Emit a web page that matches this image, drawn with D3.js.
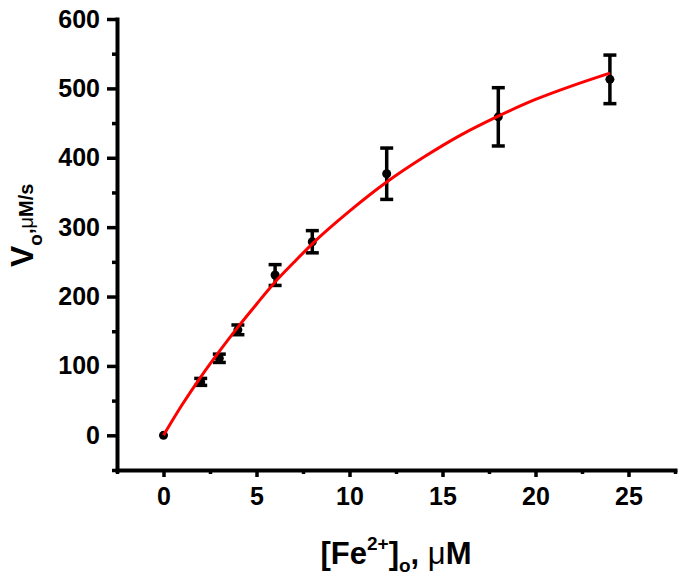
<!DOCTYPE html>
<html>
<head>
<meta charset="utf-8">
<script src="https://cdn.jsdelivr.net/npm/d3@7"></script>
<style>
  body { margin: 0; background: #fff; }
  svg { font-family: "Liberation Sans", Arial, sans-serif; font-weight: bold; }
</style>
</head>
<body>
<div id="chart"></div>
<script>
/* CONSTANTS */
const width = 692,
  height = 588,
  margin = { top: 19, right: 17, bottom: 118, left: 117 };

/* DATA */
const concX = [0, 2, 3, 4, 6, 8, 12, 18, 24];
const rateY = [0, 77, 111, 152, 231, 279, 377, 459, 513];
const rateErr = [0, 5, 6, 7, 15, 16, 37, 42, 35];

// red fitted curve
const fitX = [0, 1, 2, 3, 4, 5, 6, 7, 8, 10, 12, 14, 16, 18, 20, 22, 24];
const fitY = [0, 44, 84, 121, 156, 189, 221, 249, 276, 323, 365, 401, 433, 460, 484, 504, 522];

const xMajor = [0, 5, 10, 15, 20, 25];
const xMinor = [-2.5, 2.5, 7.5, 12.5, 17.5, 22.5, 27.5];
const yMajor = [0, 100, 200, 300, 400, 500, 600];
const yMinor = [-50, 50, 150, 250, 350, 450, 550];

/* SCALES */
const xScale = d3.scaleLinear()
  .domain([-2.5, 27.5])
  .range([margin.left, width - margin.right]);

const yScale = d3.scaleLinear()
  .domain([-50, 600])
  .range([height - margin.bottom, margin.top]);

const svg = d3.select("#chart")
  .append("svg")
  .attr("width", width)
  .attr("height", height);

/* AXES */
const axisY = height - margin.bottom;

// minor ticks first
svg.append("g")
  .attr("transform", `translate(0,${axisY})`)
  .call(d3.axisBottom(xScale).tickValues(xMinor).tickSize(4).tickFormat(""))
  .call(g => g.select(".domain").remove());

svg.append("g")
  .attr("transform", `translate(${margin.left},0)`)
  .call(d3.axisLeft(yScale).tickValues(yMinor).tickSize(5).tickFormat(""))
  .call(g => g.select(".domain").remove());

const xAxis = svg.append("g")
  .attr("class", "axis x-axis")
  .attr("transform", `translate(0,${axisY})`)
  .call(d3.axisBottom(xScale).tickValues(xMajor).tickSize(7).tickPadding(10).tickSizeOuter(0));

const yAxis = svg.append("g")
  .attr("class", "axis y-axis")
  .attr("transform", `translate(${margin.left},0)`)
  .call(d3.axisLeft(yScale).tickValues(yMajor).tickSize(10).tickPadding(7).tickSizeOuter(0));

svg.selectAll(".tick line").attr("stroke", "#000").attr("stroke-width", 3.5);
svg.selectAll(".domain").attr("stroke", "#000").attr("stroke-width", 4).attr("stroke-linecap", "square");
svg.selectAll(".axis text")
  .attr("font-family", "Liberation Sans, Arial, sans-serif")
  .attr("font-weight", "bold")
  .attr("font-size", 25)
  .attr("fill", "#000");

/* AXIS LABELS */
const xLabel = svg.append("text")
  .attr("x", (margin.left + width - margin.right) / 2)
  .attr("y", 564)
  .attr("text-anchor", "middle")
  .attr("font-size", 31);
xLabel.append("tspan").text("[Fe");
xLabel.append("tspan").attr("font-size", 19).attr("dy", -14).text("2+");
xLabel.append("tspan").attr("dy", 14).text("]");
xLabel.append("tspan").attr("font-size", 19).attr("dy", 8).text("o");
xLabel.append("tspan").attr("dy", -8).text(", ");
xLabel.append("tspan").attr("font-weight", "normal").text("μ");
xLabel.append("tspan").text("M");

const yLabel = svg.append("text")
  .attr("transform", "translate(33,267) rotate(-90)")
  .attr("font-size", 32);
yLabel.append("tspan").text("V");
yLabel.append("tspan").attr("font-size", 19).attr("dy", 9).text("o");
yLabel.append("tspan").attr("font-size", 20).attr("dy", -9).text(",");
yLabel.append("tspan").attr("font-size", 20).attr("font-weight", "normal").text("μ");
yLabel.append("tspan").attr("font-size", 20).text("M/s");

/* ERROR BARS AND POINTS */
const points = concX.map((x, i) => ({ x, y: rateY[i], err: rateErr[i] }));
const capW = 6.5;

const bars = svg.append("g")
  .selectAll("g")
  .data(points.filter(d => d.err > 0))
  .join("g")
  .attr("stroke", "#000")
  .attr("stroke-width", 3.5);

bars.append("line")
  .attr("x1", d => xScale(d.x)).attr("x2", d => xScale(d.x))
  .attr("y1", d => yScale(d.y - d.err)).attr("y2", d => yScale(d.y + d.err));
bars.append("line")
  .attr("x1", d => xScale(d.x) - capW).attr("x2", d => xScale(d.x) + capW)
  .attr("y1", d => yScale(d.y + d.err)).attr("y2", d => yScale(d.y + d.err));
bars.append("line")
  .attr("x1", d => xScale(d.x) - capW).attr("x2", d => xScale(d.x) + capW)
  .attr("y1", d => yScale(d.y - d.err)).attr("y2", d => yScale(d.y - d.err));

svg.append("g")
  .selectAll("circle")
  .data(points)
  .join("circle")
  .attr("cx", d => xScale(d.x))
  .attr("cy", d => yScale(d.y))
  .attr("r", 4.5)
  .attr("fill", "#000");

/* FIT CURVE */
const line = d3.line()
  .x(d => xScale(d[0]))
  .y(d => yScale(d[1]))
  .curve(d3.curveMonotoneX);

svg.append("path")
  .datum(fitX.map((x, i) => [x, fitY[i]]))
  .attr("d", line)
  .attr("fill", "none")
  .attr("stroke", "#ff0000")
  .attr("stroke-width", 3);
</script>
</body>
</html>
